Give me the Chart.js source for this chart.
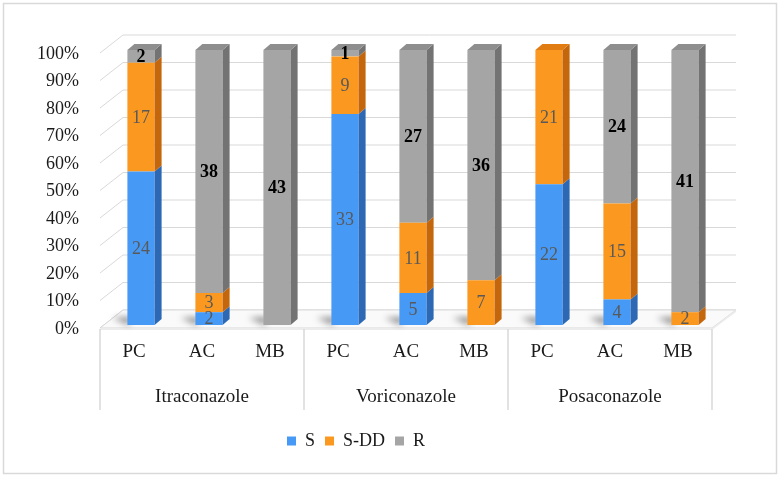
<!DOCTYPE html>
<html>
<head>
<meta charset="utf-8">
<script src="https://cdn.jsdelivr.net/npm/chart.js@4.4.1/dist/chart.umd.min.js"></script>
<style>
  html, body { margin: 0; padding: 0; background: #fff; }
</style>
</head>
<body>
<canvas id="chart" width="783" height="479"></canvas>
<script>
// données (nombre d'isolats)
const groups = ['Itraconazole', 'Voriconazole', 'Posaconazole'];
const categories = ['PC', 'AC', 'MB', 'PC', 'AC', 'MB', 'PC', 'AC', 'MB'];
const sCounts   = [24, 2, 0, 33, 5, 0, 22, 4, 0];
const sddCounts = [17, 3, 0, 9, 11, 7, 21, 15, 2];
const rCounts   = [2, 38, 43, 1, 27, 36, 0, 24, 41];
const seriesNames = ['S', 'S-DD', 'R'];

const FONT = '"Liberation Serif", "Times New Roman", serif';
const frontColors = ['#4699f5', '#fa981f', '#a5a5a5'];
const sideColors  = ['#2c68b4', '#c4670c', '#737373'];
const capColors   = ['#74b2f8', '#e07c12', '#8e8e8e'];
const labelColors = ['#595959', '#595959', '#000000'];
const labelWeights = ['', '', 'bold '];
const DX = 7, DY = 6, SHIFT = 7;   // profondeur 3D et décalage des barres

const totals = sCounts.map((v, i) => v + sddCounts[i] + rCounts[i]);
const pct = arr => arr.map((v, i) => v / totals[i] * 100);
const counts = [sCounts, sddCounts, rCounts];

const depth3d = {
  id: 'depth3d',
  beforeDraw(chart) {
    const ctx = chart.ctx;
    ctx.save();
    ctx.fillStyle = '#fff';
    ctx.fillRect(0, 0, chart.width, chart.height);
    ctx.strokeStyle = '#d9d9d9';
    ctx.lineWidth = 1.5;
    ctx.strokeRect(3.5, 3.5, 773, 470);
    ctx.restore();
  },
  beforeDatasetsDraw(chart) {
    const { ctx, chartArea: a, scales: { y } } = chart;
    ctx.save();
    ctx.strokeStyle = '#d9d9d9';
    ctx.lineWidth = 1;
    // murs du fond
    y.ticks.forEach(t => {
      const p = y.getPixelForValue(t.value);
      ctx.beginPath();
      ctx.moveTo(a.left, p + 3);
      ctx.lineTo(a.left + 23, p - 15);
      ctx.lineTo(a.right + 24, p - 15);
      ctx.stroke();
    });
    // sol
    const y0 = y.getPixelForValue(0);
    ctx.fillStyle = '#fafafa';
    ctx.beginPath();
    ctx.moveTo(a.left, y0 + 3);
    ctx.lineTo(a.right, y0 + 3);
    ctx.lineTo(a.right + 24, y0 - 15);
    ctx.lineTo(a.left + 23, y0 - 15);
    ctx.closePath();
    ctx.fill();
    ctx.stroke();
    ctx.fillStyle = '#ececec';
    ctx.beginPath();
    ctx.moveTo(a.left, y0 + 3);
    ctx.lineTo(a.right, y0 + 3);
    ctx.lineTo(a.right + 24, y0 - 15);
    ctx.lineTo(a.right + 24, y0 - 13);
    ctx.lineTo(a.right, y0 + 5);
    ctx.lineTo(a.left, y0 + 5);
    ctx.closePath();
    ctx.fill();
    // ombres des barres
    const meta = chart.getDatasetMeta(0);
    ctx.filter = 'blur(3px)';
    ctx.fillStyle = 'rgba(0,0,0,0.45)';
    meta.data.forEach(el => {
      const left = el.x + SHIFT - el.width / 2;
      ctx.beginPath();
      ctx.moveTo(left + 2, y0);
      ctx.lineTo(left - 15, y0 - 7);
      ctx.lineTo(left + 4, y0 - 8);
      ctx.closePath();
      ctx.fill();
    });
    ctx.filter = 'none';
    ctx.restore();
    ctx.save();
    ctx.translate(SHIFT, 0);
  },
  afterDatasetsDraw(chart) {
    const ctx = chart.ctx;
    const metas = [0, 1, 2].map(d => chart.getDatasetMeta(d));
    // faces latérales
    metas.forEach((meta, d) => {
      meta.data.forEach((el, i) => {
        if (!counts[d][i]) return;
        const right = el.x + el.width / 2;
        ctx.fillStyle = sideColors[d];
        ctx.beginPath();
        ctx.moveTo(right, el.y);
        ctx.lineTo(right + DX, el.y - DY);
        ctx.lineTo(right + DX, el.base - DY);
        ctx.lineTo(right, el.base);
        ctx.closePath();
        ctx.fill();
      });
    });
    // dessus de la barre
    categories.forEach((c, i) => {
      let d = 2;
      while (d > 0 && !counts[d][i]) d--;
      const el = metas[d].data[i];
      const left = el.x - el.width / 2, right = el.x + el.width / 2;
      ctx.fillStyle = capColors[d];
      ctx.beginPath();
      ctx.moveTo(left, el.y);
      ctx.lineTo(left + DX, el.y - DY);
      ctx.lineTo(right + DX, el.y - DY);
      ctx.lineTo(right, el.y);
      ctx.closePath();
      ctx.fill();
    });
    // étiquettes
    ctx.textAlign = 'center';
    ctx.textBaseline = 'middle';
    metas.forEach((meta, d) => {
      meta.data.forEach((el, i) => {
        if (!counts[d][i]) return;
        ctx.font = labelWeights[d] + '18px ' + FONT;
        ctx.fillStyle = labelColors[d];
        ctx.fillText(String(counts[d][i]), el.x, (el.y + el.base) / 2 + 1);
      });
    });
    ctx.restore();
  },
  afterDraw(chart) {
    const { ctx, scales: { x, y } } = chart;
    const y0 = y.getPixelForValue(0);
    const bounds = [x.left];
    for (let g = 1; g < groups.length; g++) {
      bounds.push((x.getPixelForValue(g * 3 - 1) + x.getPixelForValue(g * 3)) / 2);
    }
    bounds.push(x.right);
    ctx.save();
    ctx.strokeStyle = '#d9d9d9';
    ctx.lineWidth = 1.5;
    bounds.forEach(b => {
      ctx.beginPath();
      ctx.moveTo(b, y0 + 4);
      ctx.lineTo(b, y0 + 85);
      ctx.stroke();
    });
    ctx.fillStyle = '#1a1a1a';
    ctx.font = '19px ' + FONT;
    ctx.textAlign = 'center';
    ctx.textBaseline = 'middle';
    groups.forEach((g, k) => {
      ctx.fillText(g, (bounds[k] + bounds[k + 1]) / 2, y0 + 72);
    });
    ctx.restore();
  }
};

new Chart(document.getElementById('chart'), {
  type: 'bar',
  data: {
    labels: categories,
    datasets: seriesNames.map((name, d) => ({
      label: name,
      data: pct(counts[d]),
      backgroundColor: frontColors[d],
      borderWidth: 0,
      categoryPercentage: 1,
      barPercentage: 0.4,
      clip: false
    }))
  },
  options: {
    responsive: false,
    animation: false,
    events: [],
    layout: { padding: { left: 0, right: 71, top: 50, bottom: 19 } },
    scales: {
      x: {
        stacked: true,
        grid: { display: false, drawTicks: false },
        border: { display: false },
        ticks: { color: '#1a1a1a', padding: 16, font: { family: FONT, size: 19 } },
        afterFit(s) { s.height = 97; }
      },
      y: {
        stacked: true,
        min: 0,
        max: 100,
        grid: { display: false, drawTicks: false },
        border: { display: false },
        ticks: {
          stepSize: 10,
          color: '#1a1a1a',
          padding: 21,
          labelOffset: 4,
          font: { family: FONT, size: 18 },
          callback: v => v + '%'
        },
        afterFit(s) { s.width = 100; }
      }
    },
    plugins: {
      tooltip: { enabled: false },
      legend: {
        position: 'bottom',
        labels: {
          boxWidth: 9,
          boxHeight: 9,
          padding: 10,
          color: '#1a1a1a',
          font: { family: FONT, size: 18 }
        }
      }
    }
  },
  plugins: [depth3d]
});
</script>
</body>
</html>
